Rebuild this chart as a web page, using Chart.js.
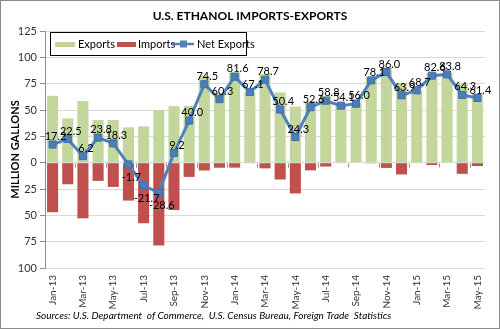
<!DOCTYPE html>
<html lang="en">
<head>
    <meta charset="UTF-8">
    <title>U.S. Ethanol Imports-Exports</title>
    <script src="https://cdn.jsdelivr.net/npm/chart.js"></script>
    <style>
        body {
            margin: 0;
            padding: 0;
            background-color: #ffffff;
        }
        .chart-box {
            position: relative;
            width: 500px;
            height: 329px;
        }
    </style>
</head>
<body>
    <div class="chart-box">
        <canvas id="ethanolChart" width="500" height="329"></canvas>
    </div>

    <script>
        const months = ['Jan-13', 'Feb-13', 'Mar-13', 'Apr-13', 'May-13', 'Jun-13', 'Jul-13', 'Aug-13', 'Sep-13', 'Oct-13',
            'Nov-13', 'Dec-13', 'Jan-14', 'Feb-14', 'Mar-14', 'Apr-14', 'May-14', 'Jun-14', 'Jul-14', 'Aug-14',
            'Sep-14', 'Oct-14', 'Nov-14', 'Dec-14', 'Jan-15', 'Feb-15', 'Mar-15', 'Apr-15', 'May-15'];
        const exportsData = [63.5, 42, 58.5, 40.5, 40.5, 33.5, 34.5, 50, 53.7, 54, 82.3, 66, 85.8, 67, 84, 66.7, 53.2, 58.5, 63.5, 55.5,
            57, 81, 90.6, 75.5, 68.5, 85.2, 85.2, 75, 65.5];
        const importsData = [-47, -20.5, -52.8, -17.3, -23, -36, -57.5, -78.6, -45, -13.5, -7.4, -4.8, -4.7, -0.6, -5.4, -16, -29.2, -7.3, -3.7, -0.4,
            -0.5, -0.7, -5, -11.2, -0.4, -2.3, -0.5, -10.6, -3.2];
        const netExports = [17.2, 22.5, 6.2, 23.8, 18.3, -1.7, -21.7, -28.6, 9.2, 40.0, 74.5, 60.3, 81.6, 67.1, 78.7, 50.4, 24.3, 52.6, 58.8, 54.1,
            56.0, 78.1, 86.0, 63.9, 68.7, 82.6, 83.8, 64.3, 61.4];
        const yTicks = [125, 100, 75, 50, 25, 0, -25, -50, -75, -100];

        const FONT = 'Lato, "Liberation Sans", Arial, sans-serif';
        const GREEN = '#c3d69b';
        const RED = '#c0504d';
        const BLUE = '#4f81bd';

        // frame, title, source line and the boxed legend
        const decorPlugin = {
            id: 'decor',
            beforeDraw(chart) {
                const ctx = chart.ctx;
                ctx.save();
                ctx.fillStyle = '#ffffff';
                ctx.fillRect(0, 0, chart.width, chart.height);
                ctx.restore();
            },
            afterDraw(chart) {
                const ctx = chart.ctx;
                ctx.save();
                ctx.strokeStyle = '#8c8c8c';
                ctx.lineWidth = 1;
                ctx.strokeRect(0.5, 0.5, chart.width - 1, chart.height - 1);

                ctx.fillStyle = '#000000';
                ctx.font = 'bold 12px ' + FONT;
                ctx.textAlign = 'center';
                ctx.textBaseline = 'middle';
                ctx.fillText('U.S. ETHANOL IMPORTS-EXPORTS', 250, 16);

                ctx.font = 'italic 10px ' + FONT;
                ctx.textAlign = 'left';
                ctx.fillText('Sources: U.S. Department  of Commerce,  U.S. Census Bureau, Foreign Trade  Statistics', 36, 316);

                // legend
                ctx.fillStyle = '#ffffff';
                ctx.fillRect(50, 32, 196, 23);
                ctx.strokeStyle = '#000000';
                ctx.strokeRect(50.5, 32.5, 196, 23);
                ctx.font = '11px ' + FONT;
                ctx.textBaseline = 'middle';
                ctx.fillStyle = GREEN;
                ctx.fillRect(55, 42, 20, 5);
                ctx.fillStyle = '#000000';
                ctx.fillText(chart.data.datasets[1].label, 78, 44);
                ctx.fillStyle = RED;
                ctx.fillRect(117, 42, 19, 5);
                ctx.fillStyle = '#000000';
                ctx.fillText(chart.data.datasets[2].label, 138, 44);
                ctx.strokeStyle = BLUE;
                ctx.lineWidth = 2.5;
                ctx.beginPath();
                ctx.moveTo(172, 44);
                ctx.lineTo(194, 44);
                ctx.stroke();
                ctx.fillStyle = BLUE;
                ctx.fillRect(180, 40.5, 7, 7);
                ctx.fillStyle = '#000000';
                ctx.fillText(chart.data.datasets[0].label, 197, 44);
                ctx.restore();
            }
        };

        // small tick marks on the zero line, every second category
        const zeroTicksPlugin = {
            id: 'zeroTicks',
            beforeDatasetsDraw(chart) {
                const x = chart.scales.x;
                const y0 = Math.round(chart.scales.y.getPixelForValue(0)) + 0.5;
                const ctx = chart.ctx;
                ctx.save();
                ctx.strokeStyle = '#8c8c8c';
                ctx.lineWidth = 1;
                for (let i = 2; i < months.length; i += 2) {
                    const px = Math.round((x.getPixelForValue(i - 1) + x.getPixelForValue(i)) / 2) + 0.5;
                    ctx.beginPath();
                    ctx.moveTo(px, y0);
                    ctx.lineTo(px, y0 + 4);
                    ctx.stroke();
                }
                ctx.restore();
            }
        };

        // value labels on the net exports line
        const netLabelPlugin = {
            id: 'netLabels',
            afterDatasetsDraw(chart) {
                const meta = chart.getDatasetMeta(0);
                const ctx = chart.ctx;
                ctx.save();
                ctx.font = '11px ' + FONT;
                ctx.fillStyle = '#000000';
                ctx.textAlign = 'center';
                ctx.textBaseline = 'middle';
                meta.data.forEach((pt, i) => {
                    const v = netExports[i];
                    const dy = v < 0 ? 13 : -8;
                    ctx.fillText(v.toFixed(1), pt.x + 3, pt.y + dy);
                });
                ctx.restore();
            }
        };

        const ctx = document.getElementById('ethanolChart').getContext('2d');
        new Chart(ctx, {
            data: {
                labels: months,
                datasets: [
                    {
                        type: 'line',
                        label: 'Net Exports',
                        data: netExports,
                        borderColor: BLUE,
                        borderWidth: 3,
                        pointStyle: 'rect',
                        pointRadius: 5,
                        pointBackgroundColor: '#4a7ebb',
                        pointBorderColor: '#3f6fa8',
                        pointBorderWidth: 1,
                        tension: 0,
                        order: 0
                    },
                    {
                        type: 'bar',
                        label: 'Exports',
                        data: exportsData,
                        backgroundColor: GREEN,
                        grouped: false,
                        categoryPercentage: 1,
                        barPercentage: 0.73,
                        order: 1
                    },
                    {
                        type: 'bar',
                        label: 'Imports',
                        data: importsData,
                        backgroundColor: RED,
                        grouped: false,
                        categoryPercentage: 1,
                        barPercentage: 0.73,
                        order: 1
                    }
                ]
            },
            options: {
                responsive: false,
                animation: false,
                devicePixelRatio: 1,
                layout: {
                    padding: { left: 0, right: 15, top: 31, bottom: 20 }
                },
                plugins: {
                    legend: { display: false },
                    title: { display: false },
                    tooltip: { enabled: false }
                },
                scales: {
                    x: {
                        grid: { display: false, drawTicks: false },
                        border: { display: false },
                        ticks: {
                            autoSkip: false,
                            minRotation: 90,
                            maxRotation: 90,
                            padding: 7,
                            color: '#333333',
                            font: { family: FONT, size: 10 },
                            callback: function (val, idx) {
                                return idx % 2 === 0 ? months[idx] : '';
                            }
                        },
                        afterFit: function (scale) {
                            scale.height = 41;
                        }
                    },
                    y: {
                        min: -100,
                        max: 125,
                        afterBuildTicks: function (scale) {
                            scale.ticks = yTicks.map(v => ({ value: v }));
                        },
                        grid: {
                            color: '#d9d9d9',
                            tickLength: 5,
                            tickColor: '#8c8c8c'
                        },
                        border: { display: true, color: '#8c8c8c' },
                        ticks: {
                            padding: 3,
                            color: '#333333',
                            font: { family: FONT, size: 11 },
                            callback: function (val) {
                                return Math.abs(val);
                            }
                        },
                        title: {
                            display: true,
                            text: 'MILLION GALLONS',
                            color: '#000000',
                            font: { family: FONT, size: 11, weight: 'bold' },
                            padding: { top: 9, bottom: 0 }
                        },
                        afterFit: function (scale) {
                            scale.width = 45;
                        }
                    }
                }
            },
            plugins: [decorPlugin, zeroTicksPlugin, netLabelPlugin]
        });
    </script>
</body>
</html>
